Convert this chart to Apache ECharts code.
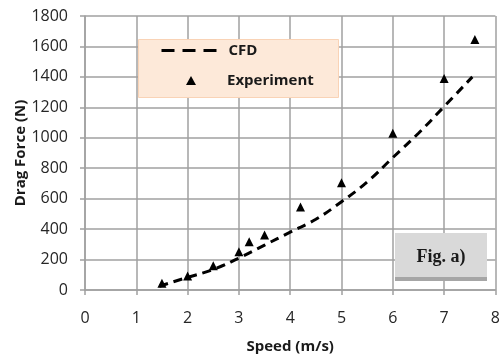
<!DOCTYPE html>
<html>
<head>
<meta charset="utf-8">
<script src="https://cdn.jsdelivr.net/npm/echarts@6/dist/echarts.min.js"></script>
<style>
	html, body { margin: 0; padding: 0; background: #fff; }
	#chart1 { width: 503px; height: 363px; }
</style>
</head>
<body>
<div id="chart1"></div>
<script>
// CFD curve (m/s, N)
var cfdSpeed = [1.45, 2, 2.5, 3, 3.5, 4, 4.5, 5, 5.5, 6, 6.5, 7, 7.55];
var cfdForce = [25, 83, 135, 210, 295, 380, 465, 580, 710, 870, 1030, 1205, 1400];
// experiment points (m/s, N)
var expSpeed = [1.5, 2.0, 2.5, 3.0, 3.2, 3.5, 4.2, 5.0, 6.0, 7.0, 7.6];
var expForce = [44, 92, 160, 251, 317, 361, 546, 705, 1030, 1390, 1645];
var seriesNames = ['CFD', 'Experiment'];

function pairs(xs, ys){
	var out = [];
	for (var i = 0; i < xs.length; i++) out.push([xs[i], ys[i]]);
	return out;
}

function getChart1(){
	var chart = echarts.init(document.getElementById('chart1'));
	var gridColor = '#a0a0a0';
	var option = {
	    animation: false,
	    textStyle: { fontFamily: 'Open Sans' },
	    grid: { left: 85, right: 7, top: 16, bottom: 73 },
	    xAxis: {
	        type: 'value',
	        min: 0, max: 8, interval: 1,
	        name: 'Speed (m/s)',
	        nameLocation: 'middle',
	        nameGap: 49,
	        nameTextStyle: { color: '#1a1a1a', fontSize: 15, fontWeight: 'bold' },
	        axisLine: { lineStyle: { color: gridColor, width: 1.5 } },
	        axisTick: { show: true, length: 5, lineStyle: { color: gridColor, width: 1.5 } },
	        axisLabel: { color: '#262626', fontSize: 16, margin: 20 },
	        splitLine: { show: true, lineStyle: { color: gridColor, width: 1.5 } }
	    },
	    yAxis: {
	        type: 'value',
	        min: 0, max: 1800, interval: 200,
	        name: 'Drag Force (N)',
	        nameLocation: 'middle',
	        nameGap: 57,
	        nameMoveOverlap: false,
	        nameRotate: 90,
	        nameTextStyle: { color: '#1a1a1a', fontSize: 15, fontWeight: 'bold' },
	        axisLine: { show: true, lineStyle: { color: gridColor, width: 1.5 } },
	        axisTick: { show: true, length: 5, lineStyle: { color: gridColor, width: 1.5 } },
	        axisLabel: { color: '#262626', fontSize: 16, margin: 17, formatter: function(v){ return String(v); } },
	        splitLine: { show: true, lineStyle: { color: gridColor, width: 1.5 } }
	    },
	    legend: [
	        {
	            data: [{ name: seriesNames[0], itemStyle: { opacity: 0 } }],
	            left: 160, top: 43,
	            padding: 0,
	            itemWidth: 57, itemHeight: 12,
	            lineStyle: { type: [13, 8], width: 3, color: '#000' },
	            textStyle: { color: '#1a1a1a', fontSize: 15, fontWeight: 'bold', padding: [0, 0, 0, 5] },
	            z: 5
	        },
	        {
	            data: [{ name: seriesNames[1], icon: 'triangle' }],
	            left: 186, top: 73,
	            padding: 0,
	            itemWidth: 10, itemHeight: 9,
	            textStyle: { color: '#1a1a1a', fontSize: 15, fontWeight: 'bold', padding: [0, 0, 0, 26] },
	            z: 5
	        }
	    ],
	    graphic: [
	        { type: 'rect', left: 138, top: 39, z: 3,
	          shape: { width: 200, height: 58 },
	          style: { fill: '#fde9d9', stroke: '#f9d3b6', lineWidth: 1 } },
	        { type: 'rect', left: 395, top: 233, z: 3,
	          shape: { width: 92, height: 48 },
	          style: { fill: '#d9d9d9' } },
	        { type: 'rect', left: 395, top: 277, z: 3,
	          shape: { width: 92, height: 4 },
	          style: { fill: '#a6a6a6' } },
	        { type: 'text', x: 441, y: 257, z: 4,
	          style: { text: 'Fig. a)', fill: '#1a1a1a', font: 'bold 18px "Liberation Serif"',
	                   align: 'center', verticalAlign: 'middle' } }
	    ],
	    series: [
	        {
	            name: seriesNames[0],
	            type: 'line',
	            smooth: true,
	            symbol: 'none',
	            data: pairs(cfdSpeed, cfdForce),
	            lineStyle: { color: '#000', width: 3, type: [9, 6] },
	            itemStyle: { color: '#000' },
	            z: 2
	        },
	        {
	            name: seriesNames[1],
	            type: 'scatter',
	            symbol: 'triangle',
	            symbolSize: [9, 9],
	            data: pairs(expSpeed, expForce),
	            itemStyle: { color: '#000', opacity: 1 },
	            z: 2
	        }
	    ]
	};
	chart.setOption(option);
}

getChart1();
</script>
</body>
</html>
